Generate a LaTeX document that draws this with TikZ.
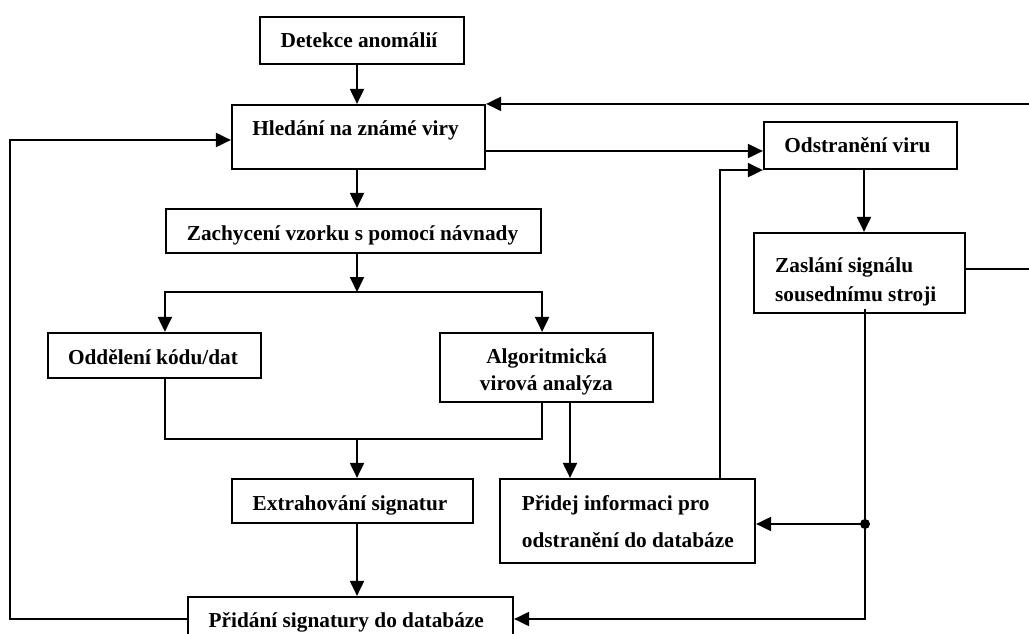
\documentclass[tikz,border=0pt]{standalone}
\usepackage{fontspec}
\setmainfont{Liberation Serif}
\usetikzlibrary{arrows.meta}
\begin{document}
\begin{tikzpicture}[x=1pt,y=-1pt,
  box/.style={draw, line width=2.2pt, rectangle, inner sep=0pt},
  lbl/.style={inner sep=0pt, font=\fontsize{21.3}{25}\selectfont\bfseries},
  link/.style={line width=2pt},
  arr/.style={link, -{Triangle[length=15pt,width=14pt]}}]
\useasboundingbox (0,0) rectangle (1029,634);

% boxes
\node[box, minimum width=204pt, minimum height=47pt] (det)     at (362,40.5)   {};
\node[box, minimum width=253pt, minimum height=64pt] (hled)    at (358.5,137)  {};
\node[box, minimum width=193pt, minimum height=47pt] (odst)    at (860.5,145.5){};
\node[box, minimum width=375pt, minimum height=44pt] (zach)    at (353.5,231)  {};
\node[box, minimum width=211pt, minimum height=80pt] (zasl)    at (859.5,273)  {};
\node[box, minimum width=213pt, minimum height=45pt] (odd)     at (154.5,355.5){};
\node[box, minimum width=213pt, minimum height=69pt] (alg)     at (546.5,367.5){};
\node[box, minimum width=241pt, minimum height=44pt] (extr)    at (352.5,501)  {};
\node[box, minimum width=255pt, minimum height=84pt] (prid)    at (627.5,521)  {};
\node[box, minimum width=325pt, minimum height=44pt] (pridani) at (350.5,619)  {};

% labels
\node[lbl, anchor=base] (tdet)  at (359,48)    {Detekce anomálií};
\node[lbl, anchor=base] (thled) at (355.5,135.5) {Hledání na známé viry};
\node[lbl, anchor=base] (todst) at (857.5,152)  {Odstranění viru};
\node[lbl, anchor=base] (tzach) at (352.5,240)  {Zachycení vzorku s pomocí návnady};
\node[lbl, anchor=base west] (tzasla) at (775,272.5) {Zaslání signálu};
\node[lbl, anchor=base west] (tzaslb) at (775,301)   {sousednímu stroji};
\node[lbl, anchor=base] (todd)  at (153,364)    {Oddělení kódu/dat};
\node[lbl, anchor=base] (talga) at (546.7,363.5) {Algoritmická};
\node[lbl, anchor=base] (talgb) at (546.3,390.5) {virová analýza};
\node[lbl, anchor=base] (textr) at (350,510)    {Extrahování signatur};
\node[lbl, anchor=base west] (tprida) at (521.7,510) {Přidej informaci pro};
\node[lbl, anchor=base west] (tpridb) at (521.7,547) {odstranění do databáze};
\node[lbl, anchor=base] (tpridani) at (346.3,627.5) {Přidání signatury do databáze};

% routing points
\coordinate (split) at (357,292);
\coordinate (merge) at (357,439);
\coordinate (loopL) at (10,619);
\coordinate (loopR) at (1036,269);
\coordinate (dot)   at (865,524);
\coordinate (upx)   at (720,0);
\coordinate (dnx)   at (864,0);
\coordinate (algx)  at (570,0);
\coordinate (cx)    at (357,0);

% connectors
\draw[arr] (det.south -| cx) -- (hled.north -| cx);
\draw[arr] (hled.south -| cx) -- (zach.north -| cx);
\draw[arr] (zach.south -| cx) -- (split);
\draw[arr] (split) -| (odd.north -| zach.west);
\draw[arr] (split) -| (alg.north -| zach.east);
\draw[link] (odd.south -| zach.west) |- (merge);
\draw[link] (alg.south -| zach.east) |- (merge);
\draw[arr] (merge) -- (extr.north -| merge);
\draw[arr] (alg.south -| algx) -- (prid.north -| algx);
\draw[arr] (extr.south -| cx) -- (pridani.north -| cx);
\draw[arr] (pridani.west) -- (loopL) |- ([yshift=-3pt]hled.west);
\draw[arr] ([yshift=-14pt]hled.east) -- ([yshift=-14pt]hled.east -| odst.west);
\draw[arr] ([yshift=4pt]zasl.east) -- (loopR) |- (hled.north east);
\draw[arr] (prid.north -| upx) |- (odst.south west);
\draw[arr] (odst.south -| dnx) -- (zasl.north -| dnx);
\draw[link] ([yshift=5pt]zasl.south -| dot) -- (dot);
\draw[arr] (dot) -- (dot -| prid.east);
\draw[arr] (dot) |- (pridani.east);
\fill (dot) circle (5pt);
\end{tikzpicture}
\end{document}
